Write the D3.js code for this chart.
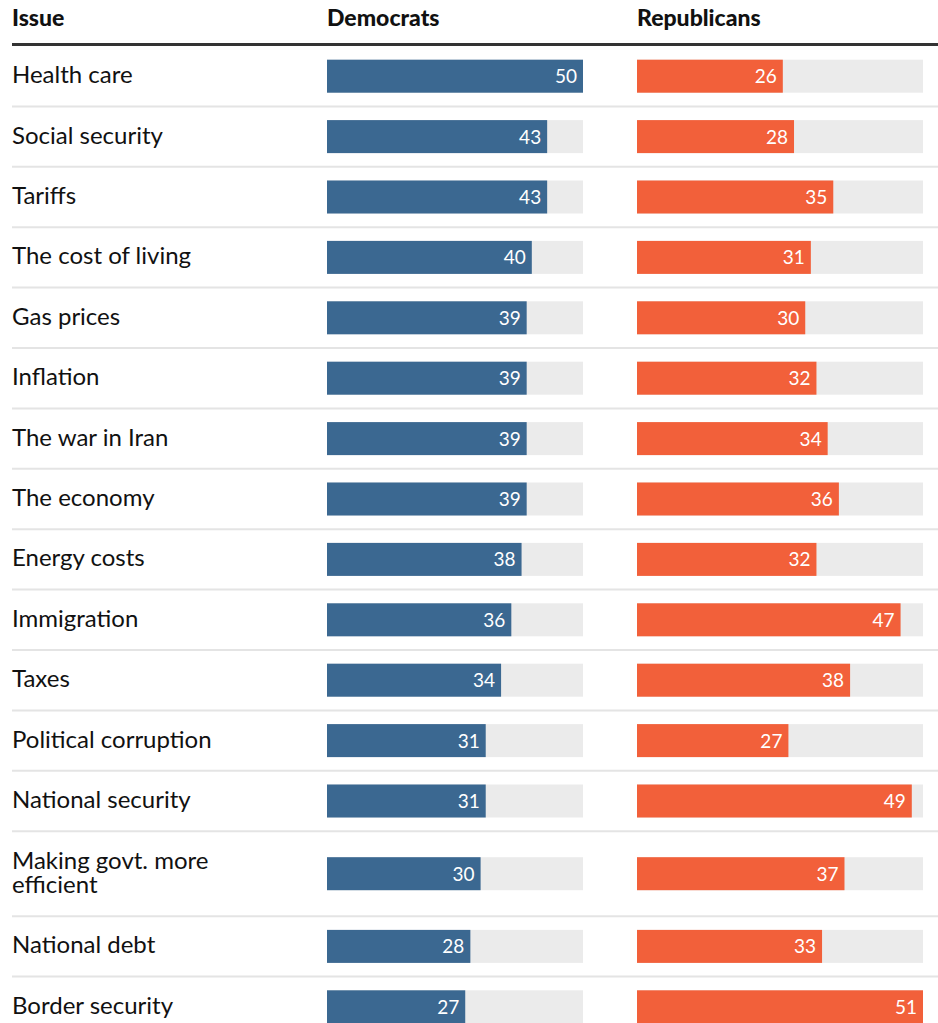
<!DOCTYPE html>
<html>
<head>
<meta charset="utf-8">
<script src="https://cdn.jsdelivr.net/npm/d3@7"></script>
<style>
  body { margin: 0; background: #fff; }
  text { font-family: Lato, "Noto Sans", sans-serif; }
</style>
</head>
<body>
<div class="chart"></div>
<script>
// data
const issues = ['Health care', 'Social security', 'Tariffs', 'The cost of living', 'Gas prices',
    'Inflation', 'The war in Iran', 'The economy', 'Energy costs', 'Immigration', 'Taxes',
    'Political corruption', 'National security', 'Making govt. more efficient', 'National debt',
    'Border security'];
const democrats = [50, 43, 43, 40, 39, 39, 39, 39, 38, 36, 34, 31, 31, 30, 28, 27];
const republicans = [26, 28, 35, 31, 30, 32, 34, 36, 32, 47, 38, 27, 49, 37, 33, 51];
const headers = ['Issue', 'Democrats', 'Republicans'];

// layout
const width = 938, height = 1023;
const left = 12;
const demX = 327, demW = 256;
const repX = 637, repW = 286;
const rowsTop = 46;     // below header rule
const rowH = 60.4;      // one-line row
const rowExtra = 24.6;  // extra row height per wrapped line
const lineH = 24;       // line spacing inside a wrapped label
const barH = 33;
const labelMax = 255;

const svg = d3.select('.chart').append('svg')
    .attr('width', width).attr('height', height);

// scales: each column runs to its own max
const xDem = d3.scaleLinear([0, d3.max(democrats)], [0, demW]);
const xRep = d3.scaleLinear([0, d3.max(republicans)], [0, repW]);

// header
svg.selectAll('.hdr').data(headers).join('text')
    .attr('class', 'hdr')
    .attr('x', (d, i) => [left, demX, repX][i])
    .attr('y', 26)
    .style('font-size', '23px').style('font-weight', 900).style('fill', '#111')
    .text(d => d);
svg.append('line')
    .attr('x1', left).attr('x2', width)
    .attr('y1', 44.5).attr('y2', 44.5)
    .style('stroke', '#333').style('stroke-width', 3);

// split labels into lines that fit the first column
const measure = svg.append('text').style('font-size', '24px');
function wrap(s) {
    const words = s.split(' ');
    const lines = [];
    let cur = '';
    words.forEach(w => {
        const next = cur ? cur + ' ' + w : w;
        measure.text(next);
        if (cur && measure.node().getComputedTextLength() > labelMax) {
            lines.push(cur);
            cur = w;
        } else cur = next;
    });
    lines.push(cur);
    return lines;
}

const rows = [];
let y = rowsTop;
issues.forEach((d, i) => {
    const lines = wrap(d);
    const h = rowH + rowExtra * (lines.length - 1);
    rows.push({ issue: d, dem: democrats[i], rep: republicans[i], lines: lines, y: y, h: h });
    y += h;
});
measure.remove();

const row = svg.selectAll('.row').data(rows).join('g')
    .attr('class', 'row')
    .attr('transform', d => `translate(0,${d.y})`);

// separators (under each row except the last)
row.filter((d, i) => i < rows.length - 1).append('line')
    .attr('x1', left).attr('x2', width)
    .attr('y1', d => d.h).attr('y2', d => d.h)
    .style('stroke', '#e4e4e4').style('stroke-width', 2);

// issue labels
row.append('text')
    .style('font-size', '24px').style('fill', '#111')
    .selectAll('tspan').data(d => d.lines.map((l, k) => ({ l, k, n: d.lines.length, h: d.h })))
    .join('tspan')
    .attr('x', left)
    .attr('y', t => t.h / 2 + 7 - (t.n - 1) * lineH / 2 + t.k * lineH)
    .text(t => t.l);

// bars
function column(x0, w, scale, key, color) {
    row.append('rect')
        .attr('x', x0).attr('y', d => (d.h - barH) / 2)
        .attr('width', w).attr('height', barH)
        .style('fill', '#ebebeb');
    row.append('rect')
        .attr('x', x0).attr('y', d => (d.h - barH) / 2)
        .attr('width', d => scale(d[key])).attr('height', barH)
        .style('fill', color);
    row.append('text')
        .attr('x', d => x0 + scale(d[key]) - 6)
        .attr('y', d => d.h / 2 + 7)
        .attr('text-anchor', 'end')
        .style('font-size', '19px').style('fill', '#fff')
        .text(d => d[key]);
}
column(demX, demW, xDem, 'dem', '#3b6891');
column(repX, repW, xRep, 'rep', '#f2603a');
</script>
</body>
</html>
